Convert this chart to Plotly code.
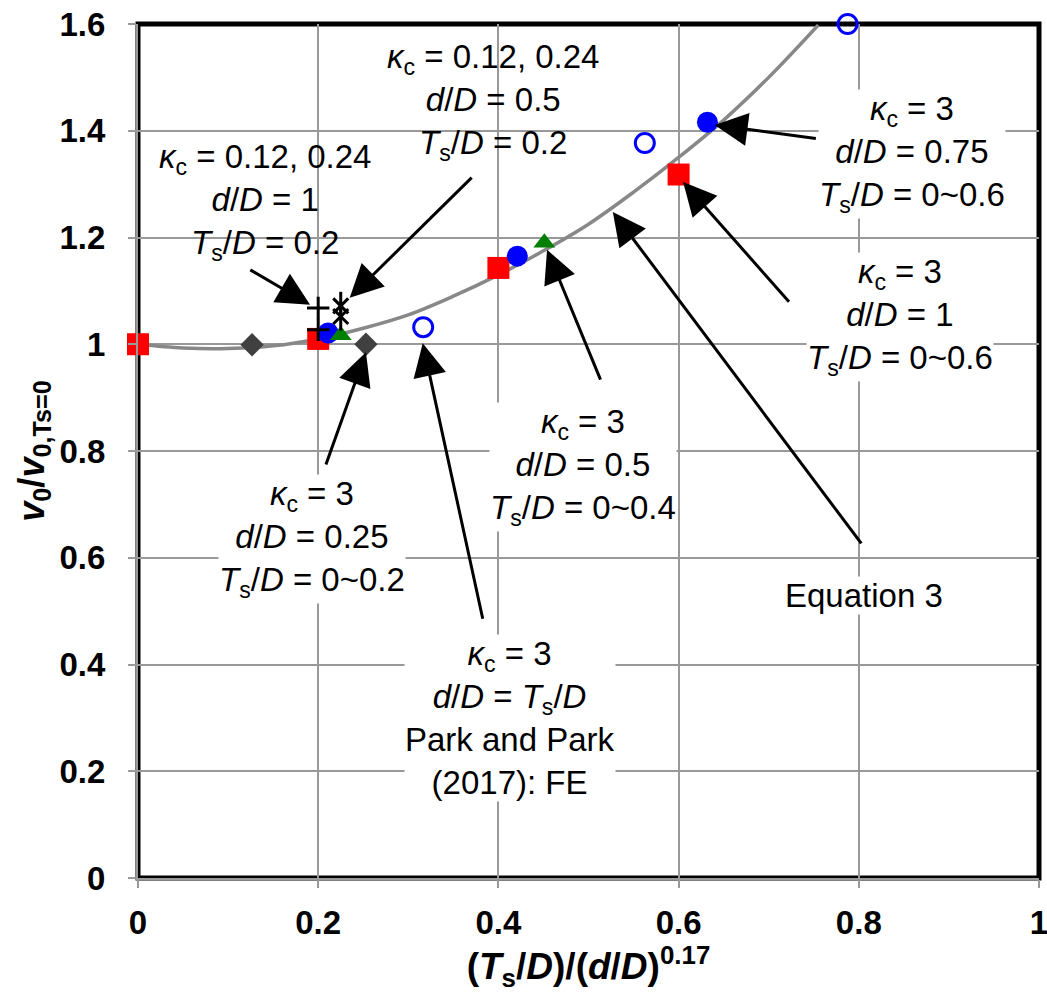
import plotly.graph_objects as go

# Equation 3 curve, read along its length
eq3_x = [0.0, 0.05, 0.10, 0.15, 0.20, 0.25, 0.30, 0.35, 0.40, 0.45, 0.50, 0.55, 0.60, 0.65, 0.70, 0.755]
eq3_y = [1.000, 0.993, 0.992, 0.997, 1.010, 1.030, 1.055, 1.090, 1.130, 1.175, 1.225, 1.285, 1.350, 1.420, 1.500, 1.598]

# kc = 3, d/D = 1, Ts/D = 0~0.6
sq_x = [0.0, 0.2, 0.4, 0.6]
sq_y = [1.000, 1.010, 1.143, 1.318]

# kc = 3, d/D = 0.75, Ts/D = 0~0.6
dot_x = [0.211, 0.421, 0.632]
dot_y = [1.021, 1.165, 1.416]

# kc = 3, d/D = Ts/D (Park and Park 2017, FE)
ring_x = [0.3165, 0.5625, 0.7876]
ring_y = [1.032, 1.377, 1.600]

# kc = 3, d/D = 0.5, Ts/D = 0~0.4
tri_x = [0.225, 0.451]
tri_y = [1.017, 1.190]

# kc = 3, d/D = 0.25, Ts/D = 0~0.2
dia_x = [0.1266, 0.253]
dia_y = [0.999, 1.000]

# kc = 0.12, 0.24, d/D = 1, Ts/D = 0.2
plus_x = [0.2, 0.2]
plus_y = [1.068, 1.027]

# kc = 0.12, 0.24, d/D = 0.5, Ts/D = 0.2
star_x = [0.225, 0.225]
star_y = [1.072, 1.052]

x_ticks = [0, 0.2, 0.4, 0.6, 0.8, 1]
x_tick_text = ["0", "0.2", "0.4", "0.6", "0.8", "1"]
y_ticks = [0, 0.2, 0.4, 0.6, 0.8, 1.0, 1.2, 1.4, 1.6]
y_tick_text = ["0", "0.2", "0.4", "0.6", "0.8", "1", "1.2", "1.4", "1.6"]

FONT = "Arial, 'Liberation Sans', sans-serif"

fig = go.Figure()

fig.add_trace(go.Scatter(x=eq3_x, y=eq3_y, mode="lines", line=dict(color="#888888", width=3.5, shape="spline"),
                         hoverinfo="skip"))
fig.add_trace(go.Scatter(x=dia_x, y=dia_y, mode="markers", cliponaxis=False,
                         marker=dict(symbol="diamond", size=18, color="#404040")))
fig.add_trace(go.Scatter(x=sq_x, y=sq_y, mode="markers", cliponaxis=False,
                         marker=dict(symbol="square", size=22, color="#FF0000")))
fig.add_trace(go.Scatter(x=dot_x, y=dot_y, mode="markers", cliponaxis=False,
                         marker=dict(symbol="circle", size=21, color="#0000FF")))
fig.add_trace(go.Scatter(x=tri_x, y=tri_y, mode="markers", cliponaxis=False,
                         marker=dict(symbol="triangle-up", size=19, color="#008000")))
fig.add_trace(go.Scatter(x=ring_x, y=ring_y, mode="markers", cliponaxis=False,
                         marker=dict(symbol="circle-open", size=19, color="#0000FF", line=dict(width=3))))
fig.add_trace(go.Scatter(x=plus_x, y=plus_y, mode="markers", cliponaxis=False,
                         marker=dict(symbol="cross-thin-open", size=16, color="black", line=dict(width=3, color="black"))))
# six-armed star: an x plus a vertical bar
fig.add_trace(go.Scatter(x=star_x, y=star_y, mode="markers", cliponaxis=False,
                         marker=dict(symbol="x-thin-open", size=15, color="black", line=dict(width=3, color="black"))))
fig.add_trace(go.Scatter(x=star_x, y=star_y, mode="markers", cliponaxis=False,
                         marker=dict(symbol="line-ns-open", size=20, color="black", line=dict(width=3, color="black"))))

K = "<i>κ</i><sub>c</sub>"
DD = "<i>d</i>/<i>D</i>"
TD = "<i>T</i><sub>s</sub>/<i>D</i>"

labels = [
    (0.141, 1.266, f"{K} = 0.12, 0.24<br>{DD} = 1<br>{TD} = 0.2", None),
    (0.394, 1.454, f"{K} = 0.12, 0.24<br>{DD} = 0.5<br>{TD} = 0.2", None),
    (0.859, 1.356, f"{K} = 3<br>{DD} = 0.75<br>{TD} = 0~0.6", "white"),
    (0.846, 1.051, f"{K} = 3<br>{DD} = 1<br>{TD} = 0~0.6", "white"),
    (0.494, 0.770, f"{K} = 3<br>{DD} = 0.5<br>{TD} = 0~0.4", "white"),
    (0.193, 0.635, f"{K} = 3<br>{DD} = 0.25<br>{TD} = 0~0.2", "white"),
    (0.413, 0.300, f"{K} = 3<br>{DD} = {TD}<br>Park and Park<br>(2017): FE", "white"),
    (0.806, 0.530, "Equation 3", "white"),
]

# arrows: (tail x, tail y, head x, head y)
arrows = [
    (0.123, 1.141, 0.191, 1.074),
    (0.372, 1.315, 0.235, 1.087),
    (0.754, 1.385, 0.640, 1.411),
    (0.724, 1.077, 0.605, 1.304),
    (0.804, 0.624, 0.527, 1.248),
    (0.514, 0.931, 0.454, 1.177),
    (0.208, 0.772, 0.253, 0.985),
    (0.383, 0.483, 0.316, 1.002),
]

for tx, ty, hx, hy in arrows:
    fig.add_annotation(x=hx, y=hy, ax=tx, ay=ty, xref="x", yref="y", axref="x", ayref="y",
                       text="", showarrow=True, arrowhead=2, arrowsize=2.2, arrowwidth=3,
                       arrowcolor="black", standoff=0)

for lx, ly, txt, bg in labels:
    fig.add_annotation(x=lx, y=ly, xref="x", yref="y", text=txt, showarrow=False,
                       align="center", font=dict(family=FONT, size=33, color="black"),
                       bgcolor=bg if bg else "rgba(0,0,0,0)", borderpad=0)

# heavy outer frame of the plotting area
fig.add_shape(type="rect", xref="paper", yref="paper", x0=0, y0=0, x1=1, y1=1,
              line=dict(color="black", width=5), layer="below")

fig.update_layout(
    width=1047, height=1001,
    margin=dict(l=138, r=8, t=24, b=123),
    plot_bgcolor="white", paper_bgcolor="white",
    showlegend=False,
    font=dict(family=FONT, color="black"),
)

fig.update_xaxes(
    range=[0, 1], tickvals=x_ticks, ticktext=x_tick_text, automargin=False,
    showgrid=True, gridcolor="#999999", gridwidth=2,
    zeroline=False, showline=True, linecolor="#999999", linewidth=2,
    ticks="outside", ticklen=8, tickcolor="#999999", tickwidth=2,
    tickfont=dict(family=FONT, size=33, weight="bold", color="black"),
    ticklabelstandoff=6, ticklabeloverflow="allow",
    title=dict(text="<b>(<i>T</i><sub>s</sub>/<i>D</i>)/(<i>d</i>/<i>D</i>)<sup>0.17</sup></b>",
               font=dict(family=FONT, size=37, color="black"), standoff=10),
)
fig.update_yaxes(
    range=[0, 1.6], tickvals=y_ticks, ticktext=y_tick_text, automargin=False,
    showgrid=True, gridcolor="#999999", gridwidth=2,
    zeroline=False, showline=True, linecolor="#999999", linewidth=2,
    ticks="outside", ticklen=8, tickcolor="#999999", tickwidth=2,
    tickfont=dict(family=FONT, size=33, weight="bold", color="black"),
    ticklabelstandoff=16, ticklabeloverflow="allow",
    title=dict(text="<b><i>v</i><sub>0</sub>/<i>v</i><sub>0,Ts=0</sub></b>",
               font=dict(family=FONT, size=36, color="black"), standoff=4),
)

fig.write_html("out.html")
